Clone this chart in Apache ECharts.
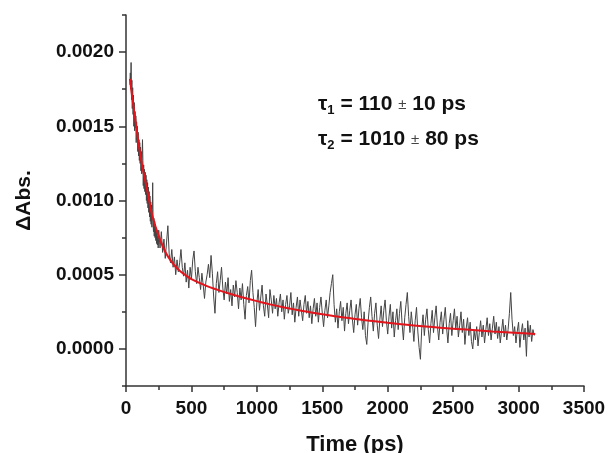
<!DOCTYPE html>
<html><head><meta charset="utf-8">
<script src="https://cdn.jsdelivr.net/npm/echarts@6/dist/echarts.min.js"></script>
<style>html,body{margin:0;padding:0;background:#fff}#c{width:608px;height:453px}</style>
</head><body><div id="c"></div>
<script>
// Measured transient (time in ps, ΔAbs)
const dataTimes = [30,33,36,39,42,45,48,51,54,57,60,63,66,69,72,75,78,81,84,87,90,93,96,99,102,105,108,111,114,117,120,123,126,129,132,135,138,141,144,147,150,153,156,159,162,165,168,171,174,177,180,183,186,189,192,195,198,201,204,207,210,213,216,219,222,225,228,231,234,237,240,243,246,249,
250,260,270,280,290,300,310,320,330,340,350,360,370,380,390,400,410,420,430,440,450,460,470,480,490,500,510,520,530,540,550,560,570,580,590,600,610,620,630,640,650,660,670,680,690,700,710,720,730,740,750,760,770,780,790,800,810,820,830,840,850,860,870,880,890,900,910,920,930,940,950,960,970,980,990,1000,1010,1020,1030,1040,1050,1060,1070,1080,1090,1100,1110,1120,1130,1140,1150,1160,1170,1180,1190,1200,1210,1220,1230,1240,1250,1260,1270,1280,1290,1300,1310,1320,1330,1340,1350,1360,1370,1380,1390,1400,1410,1420,1430,1440,1450,1460,1470,1480,1490,1500,1510,1520,1530,1540,1550,1560,1570,1580,1590,1600,1610,1620,1630,1640,1650,1660,1670,1680,1690,1700,1710,1720,1730,1740,1750,1760,1770,1780,1790,1800,1810,1820,1830,1840,1850,1860,1870,1880,1890,1900,1910,1920,1930,1940,1950,1960,1970,1980,1990,2000,2010,2020,2030,2040,2050,2060,2070,2080,2090,2100,2110,2120,2130,2140,2150,2160,2170,2180,2190,2200,2210,2220,2230,2240,2250,2260,2270,2280,2290,2300,2310,2320,2330,2340,2350,2360,2370,2380,2390,2400,2410,2420,2430,2440,2450,2460,2470,2480,2490,2500,2510,2520,2530,2540,2550,2560,2570,2580,2590,2600,2610,2620,2630,2640,2650,2660,2670,2680,2690,2700,2710,2720,2730,2740,2750,2760,2770,2780,2790,2800,2810,2820,2830,2840,2850,2860,2870,2880,2890,2900,2910,2920,2930,2940,2950,2960,2970,2980,2990,3000,3010,3020,3030,3040,3050,3060,3070,3080,3090,3100,3110,3120];
const dataValues = [178e-5,186e-5,175e-5,193e-5,168e-5,181e-5,162e-5,176e-5,158e-5,171e-5,150e-5,166e-5,147e-5,160e-5,149e-5,157e-5,139e-5,153e-5,141e-5,150e-5,133e-5,146e-5,130e-5,141e-5,127e-5,139e-5,125e-5,136e-5,120e-5,133e-5,118e-5,131e-5,141e-5,127e-5,110e-5,124e-5,108e-5,121e-5,106e-5,119e-5,104e-5,117e-5,100e-5,114e-5,98e-5,112e-5,95e-5,109e-5,92e-5,106e-5,89e-5,103e-5,86e-5,99e-5,84e-5,97e-5,82e-5,94e-5,112e-5,85e-5,79e-5,88e-5,76e-5,86e-5,75e-5,84e-5,73e-5,79e-5,71e-5,80e-5,70e-5,76e-5,68e-5,74e-5,
80e-5,68e-5,79e-5,65e-5,74e-5,61e-5,72e-5,83e-5,64e-5,58e-5,
67e-5,55e-5,62e-5,50e-5,60e-5,52e-5,58e-5,67e-5,55e-5,49e-5,
58e-5,45e-5,53e-5,41e-5,55e-5,47e-5,60e-5,66e-5,52e-5,44e-5,
55e-5,48e-5,40e-5,51e-5,43e-5,34e-5,45e-5,50e-5,57e-5,48e-5,
63e-5,51e-5,35e-5,24e-5,44e-5,52e-5,38e-5,46e-5,55e-5,41e-5,
33e-5,45e-5,37e-5,48e-5,32e-5,40e-5,29e-5,43e-5,35e-5,46e-5,
38e-5,27e-5,41e-5,33e-5,44e-5,30e-5,20e-5,36e-5,42e-5,31e-5,
46e-5,53e-5,38e-5,28e-5,15e-5,31e-5,40e-5,26e-5,35e-5,43e-5,
29e-5,22e-5,37e-5,30e-5,21e-5,40e-5,33e-5,24e-5,36e-5,27e-5,
34e-5,22e-5,31e-5,37e-5,25e-5,33e-5,20e-5,30e-5,36e-5,24e-5,
29e-5,38e-5,23e-5,31e-5,18e-5,28e-5,35e-5,22e-5,33e-5,26e-5,
19e-5,30e-5,36e-5,24e-5,32e-5,21e-5,29e-5,17e-5,27e-5,34e-5,
22e-5,31e-5,18e-5,28e-5,35e-5,24e-5,15e-5,26e-5,33e-5,21e-5,
29e-5,38e-5,44e-5,50e-5,30e-5,18e-5,27e-5,14e-5,25e-5,32e-5,
19e-5,28e-5,12e-5,24e-5,31e-5,17e-5,26e-5,33e-5,20e-5,11e-5,
23e-5,30e-5,16e-5,27e-5,34e-5,21e-5,13e-5,25e-5,9e-5,3e-5,
18e-5,28e-5,35e-5,22e-5,12e-5,24e-5,31e-5,16e-5,7e-5,20e-5,
29e-5,15e-5,26e-5,33e-5,19e-5,10e-5,22e-5,30e-5,14e-5,25e-5,
8e-5,19e-5,27e-5,13e-5,24e-5,32e-5,17e-5,6e-5,21e-5,30e-5,
38e-5,22e-5,11e-5,25e-5,16e-5,5e-5,19e-5,28e-5,12e-5,1e-5,
-7e-5,14e-5,23e-5,9e-5,20e-5,27e-5,13e-5,4e-5,17e-5,26e-5,
11e-5,21e-5,29e-5,15e-5,6e-5,18e-5,25e-5,10e-5,20e-5,28e-5,
14e-5,4e-5,17e-5,24e-5,9e-5,19e-5,27e-5,13e-5,22e-5,8e-5,
16e-5,25e-5,11e-5,20e-5,3e-5,14e-5,21e-5,9e-5,18e-5,5e-5,
0,12e-5,6e-5,15e-5,2e-5,11e-5,19e-5,8e-5,16e-5,4e-5,
13e-5,21e-5,9e-5,17e-5,6e-5,14e-5,22e-5,10e-5,18e-5,7e-5,
15e-5,4e-5,12e-5,20e-5,8e-5,16e-5,6e-5,13e-5,24e-5,38e-5,
20e-5,9e-5,15e-5,4e-5,12e-5,18e-5,1e-5,11e-5,17e-5,6e-5,
14e-5,-5e-5,19e-5,8e-5,16e-5,5e-5,13e-5,9e-5];

// Fitted biexponential curve
const fitTimes = [30,50,75,100,125,150,175,200,250,300,350,400,450,500,600,700,800,900,1000,1100,1200,1300,1400,1500,1600,1700,1800,1900,2000,2200,2400,2600,2800,3000,3127];
const fitValues = [182e-5,168e-5,152e-5,136e-5,123e-5,112e-5,101e-5,90e-5,76e-5,65.5e-5,58.5e-5,53.5e-5,50e-5,47e-5,43e-5,39.8e-5,37e-5,34.5e-5,32.2e-5,30e-5,28.1e-5,26.4e-5,24.8e-5,23.3e-5,22e-5,20.8e-5,19.6e-5,18.6e-5,17.6e-5,15.8e-5,14.3e-5,13e-5,11.8e-5,10.7e-5,10e-5];

// Axis ticks
const yTickLabels = [0, 0.0005, 0.0010, 0.0015, 0.0020];
const yMinorTicks = [-0.00025, 0.00025, 0.00075, 0.00125, 0.00175, 0.00225];
const annotations = ['{t|τ}{s|1}{a| = 110 }{p|±}{a| 10 ps}', '{t|τ}{s|2}{a| = 1010 }{p|±}{a| 80 ps}'];

const FONT = '"Liberation Sans", Arial, sans-serif';
const chart = echarts.init(document.getElementById('c'), null, {renderer: 'canvas'});
const richStyle = {
  t: {fontSize: 21, fontFamily: FONT, fontWeight: 'bold', fill: '#111'},
  s: {fontSize: 13, fontFamily: FONT, fontWeight: 'bold', fill: '#111', padding: [12, 0, 0, 0]},
  a: {fontSize: 21, fontFamily: FONT, fontWeight: 'bold', fill: '#111'},
  p: {fontSize: 15, fontFamily: FONT, fill: '#444'}
};
const axisLine = {show: true, onZero: false, lineStyle: {color: '#333', width: 1.5}};
chart.setOption({
  animation: false,
  backgroundColor: '#fff',
  grid: {left: 126, right: 24, top: 15, bottom: 67, containLabel: false, outerBoundsMode: 'none'},
  xAxis: {
    type: 'value', min: 0, max: 3500, interval: 500,
    name: 'Time (ps)', nameLocation: 'middle', nameGap: 48,
    nameTextStyle: {fontFamily: FONT, fontWeight: 'bold', fontSize: 22, color: '#111'},
    axisLine: axisLine,
    axisTick: {show: true, length: 6, lineStyle: {color: '#333', width: 1.5}},
    minorTick: {show: true, splitNumber: 2, length: 4, lineStyle: {color: '#333', width: 1.5}},
    axisLabel: {fontFamily: FONT, fontWeight: 'bold', fontSize: 19, color: '#111', margin: 13,
      formatter: v => String(v)},
    splitLine: {show: false}
  },
  yAxis: [{
    type: 'value', min: -0.00025, max: 0.00225,
    name: 'ΔAbs.', nameLocation: 'middle', nameGap: 91,
    nameTextStyle: {fontFamily: FONT, fontWeight: 'bold', fontSize: 21, color: '#111'},
    axisLine: axisLine,
    axisTick: {show: true, length: 7, customValues: yTickLabels, lineStyle: {color: '#333', width: 1.5}},
    axisLabel: {fontFamily: FONT, fontWeight: 'bold', fontSize: 19, color: '#111', margin: 12,
      customValues: yTickLabels, formatter: v => v.toFixed(4)},
    splitLine: {show: false}
  }, {
    type: 'value', min: -0.00025, max: 0.00225, position: 'left',
    axisLine: {show: false, onZero: false},
    axisTick: {show: true, length: 4, customValues: yMinorTicks, lineStyle: {color: '#333', width: 1.5}},
    axisLabel: {show: false},
    splitLine: {show: false}
  }],
  series: [{
    type: 'line', showSymbol: false, symbol: 'none',
    data: dataTimes.map((t, i) => [t, dataValues[i]]),
    lineStyle: {color: '#444', width: 1}, z: 2
  }, {
    type: 'line', showSymbol: false, symbol: 'none', smooth: 0.4,
    data: fitTimes.map((t, i) => [t, fitValues[i]]),
    lineStyle: {color: '#e3141b', width: 2}, z: 3
  }],
  graphic: annotations.map((txt, i) => ({
    type: 'text', left: 318, top: 94 + i * 35,
    style: {text: txt, rich: richStyle, fill: '#111'}
  }))
});
</script></body></html>
